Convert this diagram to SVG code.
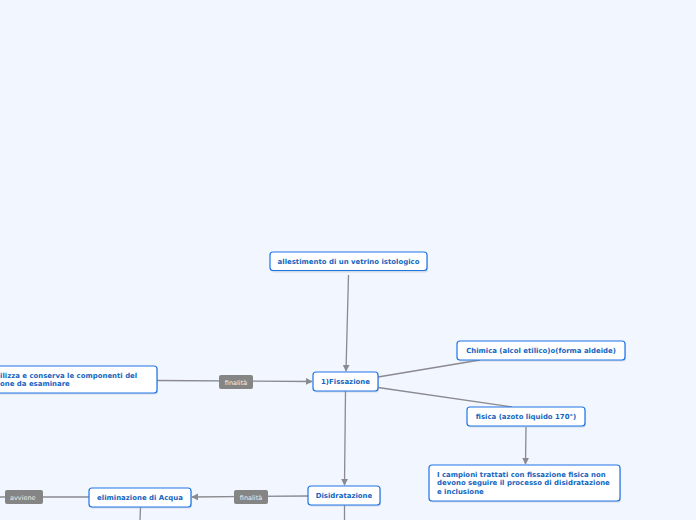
<svg xmlns="http://www.w3.org/2000/svg" width="696" height="520" viewBox="0 0 696 520">
<defs>
<style>
.node rect{fill:#ffffff;stroke:#1e74e6;stroke-width:1.2;}
.node text{font-family:"DejaVu Sans",Verdana,sans-serif;font-size:6.95px;font-weight:bold;fill:#1565c0;}
.conn line,.conn path{stroke:#8a8a90;stroke-width:1.3;fill:none;}
.lbl rect{fill:#858585;}
.lbl text{font-family:"DejaVu Sans",Verdana,sans-serif;font-size:6.5px;fill:#f0f0f0;}
</style>
<marker id="arr" viewBox="0 0 10 10" refX="9" refY="5" markerWidth="7" markerHeight="7" markerUnits="userSpaceOnUse" orient="auto">
<path d="M0,0 L10,5 L0,10 z" fill="#8a8a90"/>
</marker>
</defs>
<rect width="696" height="520" fill="#f2f6fe"/>
<g id="connectors" class="conn">
<line x1="348.5" y1="275" x2="346" y2="371" marker-end="url(#arr)"/>
<line x1="157" y1="380.5" x2="312" y2="381.5" marker-end="url(#arr)"/>
<line x1="378" y1="377" x2="480" y2="360"/>
<line x1="378" y1="387.5" x2="512" y2="407"/>
<line x1="526" y1="427" x2="525.5" y2="464" marker-end="url(#arr)"/>
<line x1="345.5" y1="391" x2="344.5" y2="485" marker-end="url(#arr)"/>
<line x1="344.5" y1="505" x2="344.5" y2="520"/>
<line x1="308" y1="496" x2="192" y2="497" marker-end="url(#arr)"/>
<line x1="89" y1="497" x2="0" y2="497"/>
<line x1="140.5" y1="507" x2="140" y2="520"/>
</g>
<g id="lbl-finalita1" class="lbl"><rect x="219" y="375" width="34" height="14" rx="2"/><text x="236" y="384.5" text-anchor="middle">finalità</text></g>
<g id="lbl-finalita2" class="lbl"><rect x="234" y="490" width="34" height="14" rx="2"/><text x="251" y="499.5" text-anchor="middle">finalità</text></g>
<g id="lbl-avviene" class="lbl"><rect x="5" y="490" width="38" height="14" rx="2"/><text x="10" y="499.5">avviene</text></g>
<g id="n-allestimento" class="node"><rect x="271" y="253.5" width="157" height="19" rx="3" style="fill:#9aa6c0;stroke:none;opacity:0.35"/><rect x="270" y="252" width="157" height="18.5" rx="3"/><text x="348.5" y="263.5" text-anchor="middle">allestimento di un vetrino istologico</text></g>
<g id="n-fissazione" class="node"><rect x="314" y="373.5" width="65" height="19" rx="3" style="fill:#9aa6c0;stroke:none;opacity:0.35"/><rect x="313" y="372" width="65" height="19" rx="3"/><text x="345.5" y="384" text-anchor="middle">1)Fissazione</text></g>
<g id="n-stabilizza" class="node"><rect x="-9" y="367.5" width="167" height="27" rx="3" style="fill:#9aa6c0;stroke:none;opacity:0.35"/><rect x="-10" y="366" width="167" height="27" rx="3"/><text x="0" y="377.5">ilizza e conserva le componenti del</text><text x="0" y="386">one da esaminare</text></g>
<g id="n-chimica" class="node"><rect x="458" y="342.5" width="168" height="19" rx="3" style="fill:#9aa6c0;stroke:none;opacity:0.35"/><rect x="457" y="341" width="168" height="19" rx="3"/><text x="541" y="353" text-anchor="middle">Chimica (alcol etilico)o(forma aldeide)</text></g>
<g id="n-fisica" class="node"><rect x="468" y="408.5" width="118" height="19" rx="3" style="fill:#9aa6c0;stroke:none;opacity:0.35"/><rect x="467" y="407" width="118" height="19" rx="3"/><text x="526" y="419" text-anchor="middle">fisica (azoto liquido 170°)</text></g>
<g id="n-campioni" class="node"><rect x="430" y="466.5" width="191" height="36" rx="3" style="fill:#9aa6c0;stroke:none;opacity:0.35"/><rect x="429" y="465" width="191" height="36" rx="3"/><text x="437" y="476.5">I campioni trattati con fissazione fisica non</text><text x="437" y="485">devono seguire il processo di disidratazione</text><text x="437" y="493.5">e inclusione</text></g>
<g id="n-disidratazione" class="node"><rect x="309" y="487.5" width="72" height="19" rx="3" style="fill:#9aa6c0;stroke:none;opacity:0.35"/><rect x="308" y="486" width="72" height="19" rx="3"/><text x="344" y="498" text-anchor="middle">Disidratazione</text></g>
<g id="n-eliminazione" class="node"><rect x="90" y="489.5" width="102" height="19" rx="3" style="fill:#9aa6c0;stroke:none;opacity:0.35"/><rect x="89" y="488" width="102" height="19" rx="3"/><text x="140" y="500" text-anchor="middle">eliminazione di Acqua</text></g>
</svg>
